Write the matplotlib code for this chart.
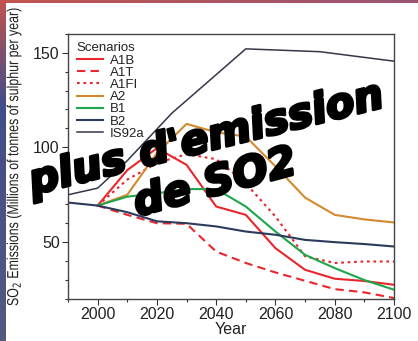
import numpy as np
import matplotlib
matplotlib.use("Agg")
import matplotlib.pyplot as plt
from matplotlib.ticker import MultipleLocator
from matplotlib.textpath import TextPath
from matplotlib.patches import PathPatch
from matplotlib.font_manager import FontProperties
from matplotlib.transforms import Affine2D, IdentityTransform
import matplotlib.patheffects as pe

plt.rcParams['font.family'] = ['Liberation Sans', 'DejaVu Sans']

# SO2 emission scenarios (Millions of tonnes of sulphur per year)
years = [2000, 2010, 2020, 2030, 2040, 2050, 2060, 2070, 2080, 2090, 2100]
a1b  = [69.3, 88.0, 99.6, 90.8, 68.8, 64.4, 46.8, 35.4, 30.7, 29.5, 27.5]
a1t  = [69.3, 64.4, 60.0, 59.7, 45.0, 39.0, 34.0, 29.6, 25.2, 23.5, 20.5]
a1fi = [69.3, 83.0, 91.7, 96.4, 93.8, 81.0, 63.5, 42.5, 39.0, 39.8, 39.8]
a2   = [69.3, 75.0, 97.0, 112.4, 108.0, 105.7, 90.0, 73.5, 64.4, 62.0, 60.4]
b1   = [69.3, 74.0, 75.8, 78.0, 78.0, 68.8, 55.6, 43.3, 36.3, 30.0, 24.9]
b2_years = [1990] + years
b2   = [70.9, 69.3, 65.8, 61.0, 60.0, 58.3, 55.6, 53.9, 51.2, 50.0, 49.0, 47.7]
is92a_years = [1990, 2000, 2010, 2025, 2050, 2075, 2100]
is92a = [75.0, 78.5, 93.0, 118.0, 152.0, 150.5, 145.5]

W, H = 418, 341
fig = plt.figure(figsize=(W / 100, H / 100), dpi=100)

# slide background: reddish along the top, blue down the left side
bg = fig.add_axes([0, 0, 1, 1])
bg.set_axis_off()
img = np.ones((H, W, 3))
t = np.linspace(0, 1, H)[:, None]
left_top = np.array([0.76, 0.33, 0.31])
left_mid = np.array([0.26, 0.30, 0.54])
left_bot = np.array([0.33, 0.35, 0.50])
col = np.where(t < 0.3, left_top + (left_mid - left_top) * (t / 0.3),
               left_mid + (left_bot - left_mid) * ((t - 0.3) / 0.7))
img[:, :6, :] = col[:, None, :]
s = np.linspace(0, 1, W)[:, None]
top = left_top + (np.array([0.60, 0.33, 0.45]) - left_top) * s
img[:3, :, :] = top[None, :, :]
bg.imshow(img, aspect='auto', extent=[0, 1, 0, 1])

ax = fig.add_axes([68 / W, 1 - 299 / H, (394 - 68) / W, (299 - 33.7) / H])
red = '#e8262b'
ax.plot(years, a1b, color=red, lw=1.5, label='A1B')
ax.plot(years, a1t, color=red, lw=1.5, ls=(0, (4, 2.5)), label='A1T')
ax.plot(years, a1fi, color=red, lw=1.5, ls=(0, (1.3, 1.8)), label='A1FI')
ax.plot(years, a2, color='#d4892e', lw=1.5, label='A2')
ax.plot(years, b1, color='#1ea64c', lw=1.5, label='B1')
ax.plot(b2_years, b2, color='#2c3a5c', lw=1.5, label='B2')
ax.plot(is92a_years, is92a, color='#34374a', lw=1.1, label='IS92a')

ax.set_xlim(1990, 2100)
ax.set_ylim(20, 160)
ax.set_xticks([2000, 2020, 2040, 2060, 2080, 2100])
ax.xaxis.set_minor_locator(MultipleLocator(10))
ax.set_yticks([50, 100, 150])
ax.yaxis.set_minor_locator(MultipleLocator(10))
ax.tick_params(which='major', length=4, width=0.8, color='#333333',
               labelsize=11.5, labelcolor='#222222', pad=2)
ax.tick_params(which='minor', length=2.5, width=0.8, color='#333333')
for sp in ax.spines.values():
    sp.set_color('#444444')
    sp.set_linewidth(1.0)

ax.set_xlabel('Year', fontsize=11.5, color='#222222', labelpad=0)

# condensed y label, squeezed along its length
ylab = 'SO$_2$ Emissions (Millions of tonnes of sulphur per year)'
tp = TextPath((0, 0), ylab, size=16, prop=FontProperties(family='Liberation Sans'))
ext = tp.get_extents()
sx = 297 / ext.width
tr = (Affine2D().translate(-ext.x0 - ext.width / 2, -ext.y0 - ext.height / 2)
      .scale(sx, 1).rotate_deg(90).translate(14, H - 157))
fig.patches.append(PathPatch(tp, transform=tr + IdentityTransform(),
                             facecolor='#222222', edgecolor='none', lw=0))

leg = ax.legend(title='Scenarios', loc='upper left', frameon=False,
                fontsize=9.5, title_fontsize=9.5, handlelength=2.0,
                handletextpad=0.5, labelspacing=0.0,
                borderaxespad=0.25, alignment='left')
for txt in leg.get_texts():
    txt.set_color('#222222')
leg.get_title().set_color('#222222')

# slogan across the chart
heavy = [pe.withStroke(linewidth=2.2, foreground='black')]
fig.text(206 / W, 1 - 139 / H, "plus d'emission", rotation=14,
         rotation_mode='anchor', ha='center', va='center', fontsize=30,
         fontweight='bold', style='italic', color='black',
         family='DejaVu Sans', path_effects=heavy)
fig.text(215 / W, 1 - 183 / H, "de SO2", rotation=15,
         rotation_mode='anchor', ha='center', va='center', fontsize=30,
         fontweight='bold', style='italic', color='black',
         family='DejaVu Sans', path_effects=heavy)

fig.savefig('out.png', dpi=100)
